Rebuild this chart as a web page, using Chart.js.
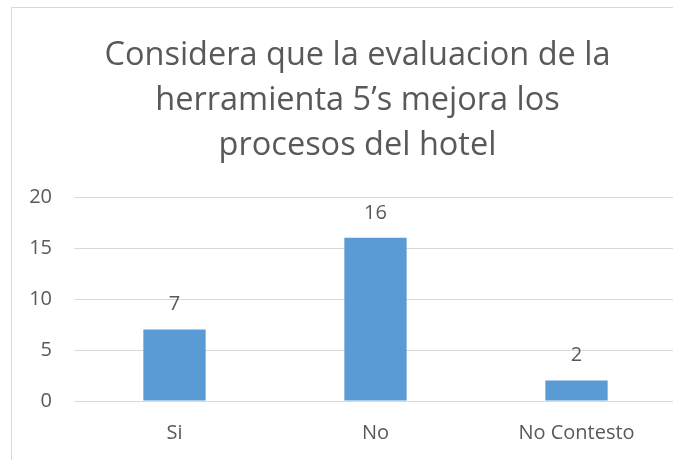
<!DOCTYPE html>
<html lang="es">
<head>
  <meta charset="UTF-8" />
  <title>Considera que la evaluacion de la herramienta 5's mejora los procesos del hotel</title>
  <script src="https://cdn.jsdelivr.net/npm/chart.js"></script>
  <style>
    html, body { margin: 0; padding: 0; background: #fff; overflow: hidden; }
    #frame {
      position: absolute; left: 11px; top: 7px;
      width: 693px; height: 470px;
      border: 1px solid #d9d9d9; box-sizing: border-box;
    }
  </style>
</head>
<body>
  <div id="frame"><canvas id="chart"></canvas></div>

  <script>
    const categorias = ['Si', 'No', 'No Contesto'];
    const respuestas = [7, 16, 2];
    const titulo = ['Considera que la evaluacion de la', 'herramienta 5\u2019s mejora los', 'procesos del hotel'];

    const gris = '#595959';
    const fuente = '"Open Sans", sans-serif';

    // titulo en tres lineas
    const tituloPlugin = {
      id: 'tituloPlugin',
      afterDraw(chart) {
        const ctx = chart.ctx;
        ctx.save();
        ctx.font = '32.5px ' + fuente;
        ctx.fillStyle = gris;
        ctx.textAlign = 'center';
        ctx.textBaseline = 'alphabetic';
        titulo.forEach((linea, i) => {
          ctx.fillText(linea, chart.width / 2, 57 + i * 45);
        });
        ctx.restore();
      }
    };

    // etiquetas de valor sobre cada barra
    const etiquetas = {
      id: 'etiquetas',
      afterDatasetsDraw(chart) {
        const ctx = chart.ctx;
        const meta = chart.getDatasetMeta(0);
        ctx.save();
        ctx.font = '20px ' + fuente;
        ctx.fillStyle = gris;
        ctx.textAlign = 'center';
        ctx.textBaseline = 'middle';
        meta.data.forEach((bar, i) => {
          ctx.fillText(String(respuestas[i]), bar.x, bar.y - 25);
        });
        ctx.restore();
      }
    };

    new Chart(document.getElementById('chart'), {
      type: 'bar',
      data: {
        labels: categorias,
        datasets: [{
          data: respuestas,
          backgroundColor: '#5b9bd5',
          barPercentage: 0.62,
          categoryPercentage: 0.5
        }]
      },
      options: {
        responsive: true,
        maintainAspectRatio: false,
        animation: false,
        layout: { padding: { left: 0, right: 26, top: 189, bottom: 11 } },
        plugins: {
          legend: { display: false },
          tooltip: { enabled: false },
          title: { display: false }
        },
        scales: {
          x: {
            grid: { display: false, drawTicks: false },
            border: { display: false },
            ticks: { color: gris, font: { family: fuente, size: 20 }, padding: 20 }
          },
          y: {
            min: 0, max: 20,
            ticks: { stepSize: 5, color: gris, font: { family: fuente, size: 20 }, padding: 22 },
            grid: { color: '#d9d9d9', drawTicks: false },
            border: { display: false },
            afterFit(scale) { scale.width = 62; }
          }
        }
      },
      plugins: [tituloPlugin, etiquetas]
    });
  </script>
</body>
</html>
